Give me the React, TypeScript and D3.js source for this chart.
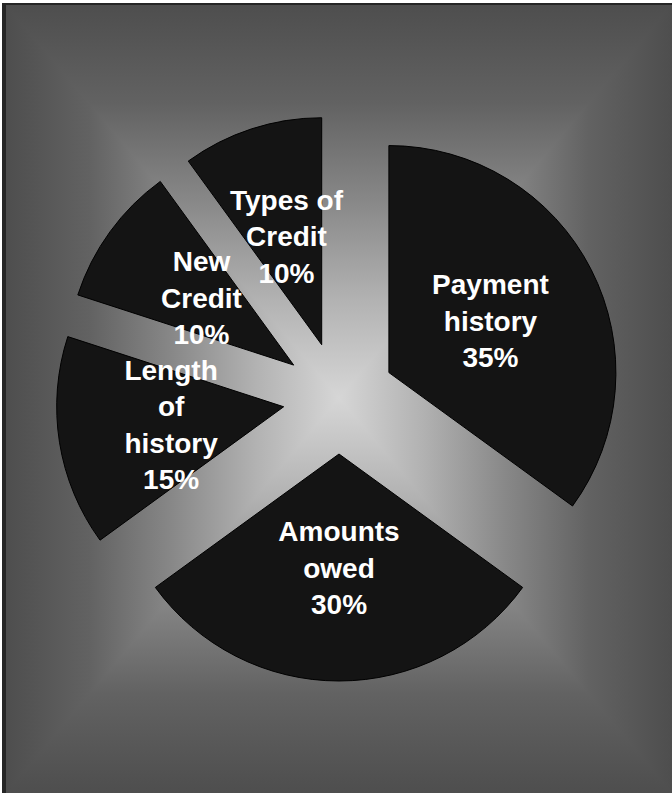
import React from "react";
import * as d3 from "d3";

const categories: string[][] = [
  ["Payment", "history"],
  ["Amounts", "owed"],
  ["Length", "of", "history"],
  ["New", "Credit"],
  ["Types of", "Credit"],
];
const values: number[] = [35, 30, 15, 10, 10];

const W = 672;
const H = 793;
const CX = 339;
const CY = 398;
const R = 227;
const EXPLODE = 56;
const LABEL_R = 170;
const LINE_H = 36.5;

const gradStops = [
  { o: 0, c: "#4e4e4e" },
  { o: 0.25, c: "#626262" },
  { o: 0.5, c: "#888888" },
  { o: 0.75, c: "#b2b2b2" },
  { o: 1, c: "#d6d6d6" },
];

export default function App() {
  const total = d3.sum(values);
  const pie = d3
    .pie<number>()
    .sort(null)
    .startAngle(0)
    .endAngle(2 * Math.PI)
    .value((d) => d);
  const arcs = pie(values);
  const arc = d3.arc<d3.PieArcDatum<number>>().innerRadius(0).outerRadius(R);

  const x0 = 6, y0 = 5, x1 = W, y1 = H;
  const tris = [
    { id: "gT", pts: `${x0},${y0} ${x1},${y0} ${CX},${CY}`, g: { x1: CX, y1: y0, x2: CX, y2: CY } },
    { id: "gB", pts: `${x0},${y1} ${x1},${y1} ${CX},${CY}`, g: { x1: CX, y1: y1, x2: CX, y2: CY } },
    { id: "gL", pts: `${x0},${y0} ${x0},${y1} ${CX},${CY}`, g: { x1: x0, y1: CY, x2: CX, y2: CY } },
    { id: "gR", pts: `${x1},${y0} ${x1},${y1} ${CX},${CY}`, g: { x1: x1, y1: CY, x2: CX, y2: CY } },
  ];

  return (
    <svg
      width={W}
      height={H}
      style={{ position: "absolute", left: 0, top: 0, display: "block" }}
    >
      <defs>
        {tris.map((t) => (
          <linearGradient
            key={t.id}
            id={t.id}
            gradientUnits="userSpaceOnUse"
            x1={t.g.x1}
            y1={t.g.y1}
            x2={t.g.x2}
            y2={t.g.y2}
          >
            {gradStops.map((s, i) => (
              <stop key={i} offset={s.o} stopColor={s.c} />
            ))}
          </linearGradient>
        ))}
      </defs>
      <rect x={0} y={0} width={W} height={H} fill="#ffffff" />
      <rect x={2} y={3} width={W - 2} height={H - 3} fill="#262626" />
      <rect x={x0} y={y0} width={x1 - x0} height={CY - y0 + 1} fill="url(#gT)" />
      <rect x={x0} y={CY} width={x1 - x0} height={y1 - CY} fill="url(#gB)" />
      {tris.map((t) => (
        <polygon key={t.id} points={t.pts} fill={`url(#${t.id})`} />
      ))}
      <g transform={`translate(${CX},${CY})`}>
        {arcs.map((a, i) => {
          const mid = (a.startAngle + a.endAngle) / 2;
          const dx = Math.sin(mid) * EXPLODE;
          const dy = -Math.cos(mid) * EXPLODE;
          return (
            <path
              key={i}
              d={arc(a) || ""}
              transform={`translate(${dx},${dy})`}
              fill="#141414"
              stroke="#000000"
              strokeWidth={1}
            />
          );
        })}
        {arcs.map((a, i) => {
          const mid = (a.startAngle + a.endAngle) / 2;
          const lx = Math.sin(mid) * LABEL_R;
          const ly = -Math.cos(mid) * LABEL_R;
          const lines = [...categories[i], `${Math.round((values[i] / total) * 100)}%`];
          const y0l = ly - ((lines.length - 1) * LINE_H) / 2;
          return (
            <text
              key={`t${i}`}
              x={lx}
              textAnchor="middle"
              fill="#ffffff"
              fontFamily="'Liberation Sans', Arial, sans-serif"
              fontWeight="bold"
              fontSize={28}
            >
              {lines.map((l, j) => (
                <tspan key={j} x={lx} y={y0l + j * LINE_H} dy="0.35em">
                  {l}
                </tspan>
              ))}
            </text>
          );
        })}
      </g>
    </svg>
  );
}
